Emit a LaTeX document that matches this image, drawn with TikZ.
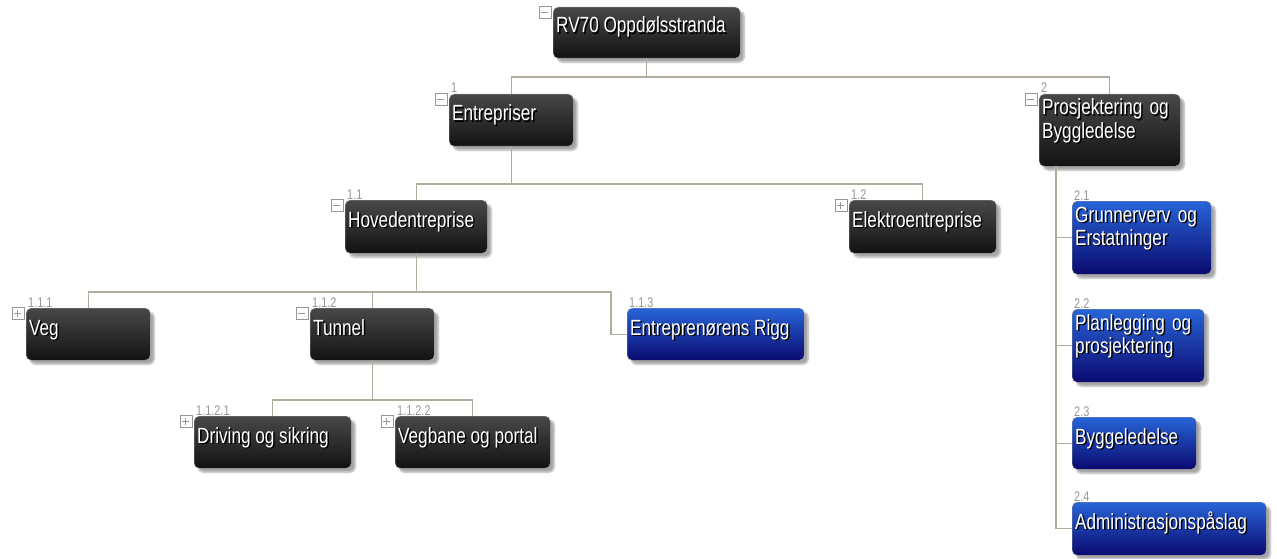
\documentclass[tikz,border=0pt]{standalone}
\usepackage{fontspec}
\newfontfamily\wbsfont{Liberation Sans}[FakeStretch=0.78]
\usetikzlibrary{shadows.blur}

\definecolor{linegray}{RGB}{178,172,158}
\definecolor{numgray}{RGB}{150,150,150}
\definecolor{blacktop}{RGB}{72,72,72}
\definecolor{blackbot}{RGB}{18,18,18}
\definecolor{bluetop}{RGB}{40,100,215}
\definecolor{bluemid}{RGB}{16,16,140}
\definecolor{bluebot}{RGB}{10,10,112}

% white text with a dark drop shadow
\newcommand{\wbsshadow}[1]{\leavevmode\rlap{\kern1.5pt\raisebox{-1.5pt}{\textcolor{black}{#1}}}#1}

\tikzset{
  wbs/.style={rectangle, rounded corners=5pt, anchor=north west, inner sep=0pt,
    draw=black!45, line width=0.4pt,
    blur shadow={shadow xshift=4pt, shadow yshift=-4pt, shadow blur steps=6, shadow opacity=35}},
  darkbox/.style={wbs, top color=blacktop, bottom color=blackbot},
  bluebox/.style={wbs, top color=bluetop, middle color=bluemid, bottom color=bluebot},
  boxtext/.style={anchor=base west, inner sep=0pt, text=white,
    font=\wbsfont\fontsize{22}{20}\selectfont},
  twoline/.style={boxtext, text width=160pt, align=left},
  numtext/.style={anchor=base west, inner sep=0pt, text=numgray,
    font=\wbsfont\fontsize{14}{14}\selectfont},
  signbox/.style={draw=numgray, fill=white, minimum size=12pt, inner sep=0pt, anchor=north east},
  minusbox/.style={signbox, path picture={
    \draw[numgray, line width=0.8pt] ([xshift=2.5pt]path picture bounding box.west) -- ([xshift=-2.5pt]path picture bounding box.east);}},
  plusbox/.style={signbox, path picture={
    \draw[numgray, line width=0.8pt] ([xshift=2.5pt]path picture bounding box.west) -- ([xshift=-2.5pt]path picture bounding box.east);
    \draw[numgray, line width=0.8pt] ([yshift=2.5pt]path picture bounding box.south) -- ([yshift=-2.5pt]path picture bounding box.north);}},
  conn/.style={draw=linegray, line width=1.4pt}
}

\begin{document}
\begin{tikzpicture}[x=1pt, y=-1pt]
	\useasboundingbox (0,0) rectangle (1277,559);
	
	%boxes
	\node[darkbox, minimum width=187pt, minimum height=51pt] (root) at (553,7) {};
	\node[darkbox, minimum width=124pt, minimum height=52pt] (ent) at (449,94) {};
	\node[darkbox, minimum width=141pt, minimum height=72pt] (prj) at (1039,94) {};
	\node[darkbox, minimum width=142pt, minimum height=53pt] (hov) at (345,200) {};
	\node[darkbox, minimum width=147pt, minimum height=53pt] (elk) at (849,200) {};
	\node[darkbox, minimum width=124pt, minimum height=52pt] (veg) at (26,308) {};
	\node[darkbox, minimum width=124pt, minimum height=52pt] (tun) at (310,308) {};
	\node[bluebox, minimum width=177pt, minimum height=52pt] (rig) at (627,308) {};
	\node[darkbox, minimum width=157pt, minimum height=52pt] (drv) at (194,416) {};
	\node[darkbox, minimum width=155pt, minimum height=52pt] (vgb) at (395,416) {};
	\node[bluebox, minimum width=139pt, minimum height=73pt] (gru) at (1072,201) {};
	\node[bluebox, minimum width=132pt, minimum height=73pt] (pla) at (1072,309) {};
	\node[bluebox, minimum width=124pt, minimum height=52pt] (byg) at (1072,417) {};
	\node[bluebox, minimum width=194pt, minimum height=53pt] (adm) at (1072,502) {};
	
	%bus levels
	\coordinate (bus0) at (0,77);
	\coordinate (bus1) at (0,184);
	\coordinate (bus2) at (0,292);
	\coordinate (bus3) at (0,400);
	\coordinate (rigx) at (611,0);
	\coordinate (spine) at ([xshift=17pt]prj.south west);
	
	%lines
	\draw[conn] (root.south) -- (root.south |- bus0);
	\draw[conn] (ent.north) |- (prj.north |- bus0) -- (prj.north);
	\draw[conn] (ent.south) -- (ent.south |- bus1);
	\draw[conn] (hov.north) |- (elk.north |- bus1) -- (elk.north);
	\draw[conn] (hov.south) -- (hov.south |- bus2);
	\draw[conn] (veg.north) |- (rigx |- bus2) -- (rigx |- rig.west) -- (rig.west);
	\draw[conn] (tun.north) -- (tun.north |- bus2);
	\draw[conn] (tun.south) -- (tun.south |- bus3);
	\draw[conn] (drv.north) |- (vgb.north |- bus3) -- (vgb.north);
	\draw[conn] (spine) |- (adm.west);
	\draw[conn] (spine |- gru.west) -- (gru.west);
	\draw[conn] (spine |- pla.west) -- (pla.west);
	\draw[conn] (spine |- byg.west) -- (byg.west);
	
	%box texts
	\node[boxtext] (root-t) at ([shift={(3pt,-26pt)}]root.north west) {\wbsshadow{RV70 Oppdølsstranda}};
	\node[boxtext] (ent-t) at ([shift={(3pt,-27pt)}]ent.north west) {\wbsshadow{Entrepriser}};
	\node[twoline] (prj-t) at ([shift={(3pt,-21pt)}]prj.north west) {\wbsshadow{Prosjektering og}\\\wbsshadow{Byggledelse}};
	\node[boxtext] (hov-t) at ([shift={(3pt,-27pt)}]hov.north west) {\wbsshadow{Hovedentreprise}};
	\node[boxtext] (elk-t) at ([shift={(3pt,-27pt)}]elk.north west) {\wbsshadow{Elektroentreprise}};
	\node[boxtext] (veg-t) at ([shift={(3pt,-27pt)}]veg.north west) {\wbsshadow{Veg}};
	\node[boxtext] (tun-t) at ([shift={(3pt,-27pt)}]tun.north west) {\wbsshadow{Tunnel}};
	\node[boxtext] (rig-t) at ([shift={(3pt,-27pt)}]rig.north west) {\wbsshadow{Entreprenørens Rigg}};
	\node[boxtext] (drv-t) at ([shift={(3pt,-27pt)}]drv.north west) {\wbsshadow{Driving og sikring}};
	\node[boxtext] (vgb-t) at ([shift={(3pt,-27pt)}]vgb.north west) {\wbsshadow{Vegbane og portal}};
	\node[twoline] (gru-t) at ([shift={(3pt,-21pt)}]gru.north west) {\wbsshadow{Grunnerverv og}\\\wbsshadow{Erstatninger}};
	\node[twoline] (pla-t) at ([shift={(3pt,-21pt)}]pla.north west) {\wbsshadow{Planlegging og}\\\wbsshadow{prosjektering}};
	\node[boxtext] (byg-t) at ([shift={(3pt,-27pt)}]byg.north west) {\wbsshadow{Byggeledelse}};
	\node[boxtext] (adm-t) at ([shift={(3pt,-27pt)}]adm.north west) {\wbsshadow{Administrasjonspåslag}};
	
	%numbers
	\node[numtext] (ent-n) at ([shift={(2pt,1pt)}]ent.north west) {1};
	\node[numtext] (prj-n) at ([shift={(2pt,1pt)}]prj.north west) {2};
	\node[numtext] (hov-n) at ([shift={(2pt,1pt)}]hov.north west) {1.1};
	\node[numtext] (elk-n) at ([shift={(2pt,1pt)}]elk.north west) {1.2};
	\node[numtext] (veg-n) at ([shift={(2pt,1pt)}]veg.north west) {1.1.1};
	\node[numtext] (tun-n) at ([shift={(2pt,1pt)}]tun.north west) {1.1.2};
	\node[numtext] (rig-n) at ([shift={(2pt,1pt)}]rig.north west) {1.1.3};
	\node[numtext] (drv-n) at ([shift={(2pt,1pt)}]drv.north west) {1.1.2.1};
	\node[numtext] (vgb-n) at ([shift={(2pt,1pt)}]vgb.north west) {1.1.2.2};
	\node[numtext] (gru-n) at ([shift={(2pt,1pt)}]gru.north west) {2.1};
	\node[numtext] (pla-n) at ([shift={(2pt,1pt)}]pla.north west) {2.2};
	\node[numtext] (byg-n) at ([shift={(2pt,1pt)}]byg.north west) {2.3};
	\node[numtext] (adm-n) at ([shift={(2pt,1pt)}]adm.north west) {2.4};
	
	%expand/collapse signs
	\node[minusbox] (root-s) at ([shift={(-2pt,1pt)}]root.north west) {};
	\node[minusbox] (ent-s) at ([shift={(-2pt,1pt)}]ent.north west) {};
	\node[minusbox] (prj-s) at ([shift={(-2pt,1pt)}]prj.north west) {};
	\node[minusbox] (hov-s) at ([shift={(-2pt,1pt)}]hov.north west) {};
	\node[plusbox] (elk-s) at ([shift={(-2pt,1pt)}]elk.north west) {};
	\node[plusbox] (veg-s) at ([shift={(-2pt,1pt)}]veg.north west) {};
	\node[minusbox] (tun-s) at ([shift={(-2pt,1pt)}]tun.north west) {};
	\node[plusbox] (drv-s) at ([shift={(-2pt,1pt)}]drv.north west) {};
	\node[plusbox] (vgb-s) at ([shift={(-2pt,1pt)}]vgb.north west) {};
\end{tikzpicture}
\end{document}
